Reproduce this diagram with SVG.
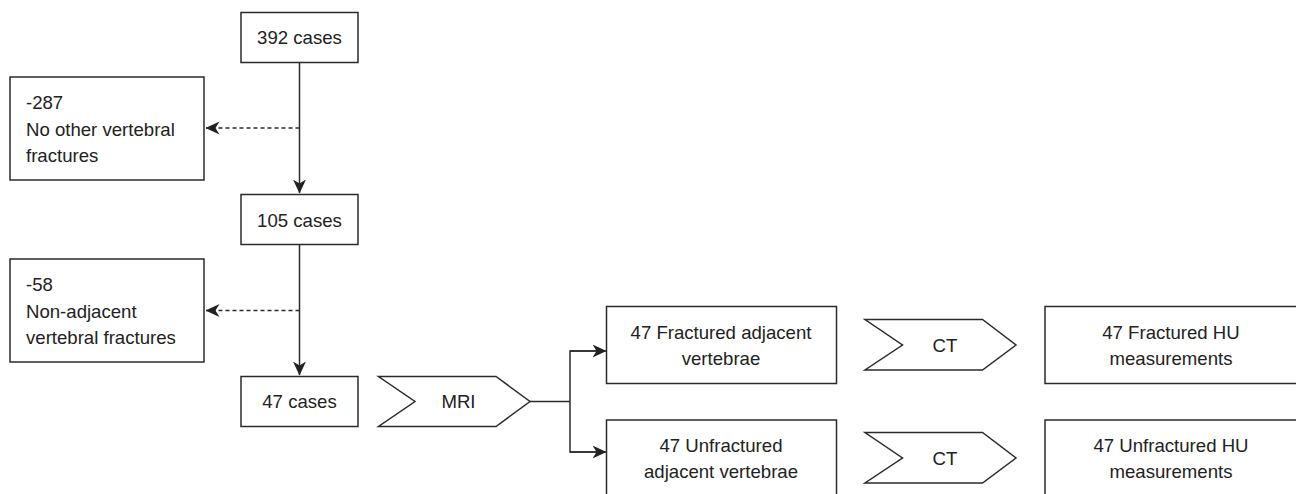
<svg xmlns="http://www.w3.org/2000/svg" width="1296" height="494" viewBox="0 0 1296 494">
<style>
.box{fill:#fff;stroke:#2b2b2b;stroke-width:1.5}
.t{font-family:"Liberation Sans",Arial,sans-serif;font-size:18.6px;fill:#222}
.c{text-anchor:middle}
.ln{fill:none;stroke:#2b2b2b;stroke-width:1.5}
.dash{stroke-dasharray:4 3}
</style>
<defs>
<marker id="ah" viewBox="0 0 14 14" refX="13.5" refY="7" markerWidth="14" markerHeight="14" markerUnits="userSpaceOnUse" orient="auto">
<path d="M0,0.5 L14,7 L0,13.5 L4,7 Z" fill="#222"/>
</marker>
</defs>
<rect width="1296" height="494" fill="#fff"/>
<g id="connectors">
<line class="ln" x1="299.5" y1="63" x2="299.5" y2="193" marker-end="url(#ah)"/>
<line class="ln dash" x1="299.5" y1="128" x2="206" y2="128" marker-end="url(#ah)"/>
<line class="ln" x1="299.5" y1="245" x2="299.5" y2="375" marker-end="url(#ah)"/>
<line class="ln dash" x1="299.5" y1="310.5" x2="206" y2="310.5" marker-end="url(#ah)"/>
<polyline class="ln" points="530,401.5 570,401.5"/>
<polyline class="ln" points="600,351 570,351 570,452 600,452"/>
<line class="ln" x1="570" y1="351" x2="606" y2="351" marker-end="url(#ah)"/>
<line class="ln" x1="570" y1="452" x2="606" y2="452" marker-end="url(#ah)"/>
</g>
<g id="n392">
<rect class="box" x="241" y="12.5" width="117" height="50"/>
<text class="t c" x="299.5" y="44">392 cases</text>
</g>
<g id="n287">
<rect class="box" x="10" y="77" width="194" height="103"/>
<text class="t" x="26" y="109">-287</text>
<text class="t" x="26" y="135.5">No other vertebral</text>
<text class="t" x="26" y="162">fractures</text>
</g>
<g id="n105">
<rect class="box" x="241" y="194.5" width="117" height="50"/>
<text class="t c" x="299.5" y="226.5">105 cases</text>
</g>
<g id="n58">
<rect class="box" x="10" y="259" width="194" height="103"/>
<text class="t" x="26" y="291">-58</text>
<text class="t" x="26" y="317.5">Non-adjacent</text>
<text class="t" x="26" y="344">vertebral fractures</text>
</g>
<g id="n47">
<rect class="box" x="241" y="376.5" width="117" height="50"/>
<text class="t c" x="299.5" y="407.5">47 cases</text>
</g>
<g id="mri">
<polygon class="box" points="378.5,376.5 496,376.5 530,401.5 496,426.5 378.5,426.5 415,401.5"/>
<text class="t c" x="458.5" y="407.5">MRI</text>
</g>
<g id="frac">
<rect class="box" x="606.5" y="306.5" width="230" height="77"/>
<text class="t c" x="721" y="338.5">47 Fractured adjacent</text>
<text class="t c" x="721" y="365">vertebrae</text>
</g>
<g id="unfrac">
<rect class="box" x="606.5" y="420" width="230" height="77"/>
<text class="t c" x="721" y="451.5">47 Unfractured</text>
<text class="t c" x="721" y="477.5">adjacent vertebrae</text>
</g>
<g id="ct1">
<polygon class="box" points="865,319.5 982.5,319.5 1016,345 982.5,370 865,370 902.5,345"/>
<text class="t c" x="945" y="351.5">CT</text>
</g>
<g id="ct2">
<polygon class="box" points="865,432.5 982.5,432.5 1016,458 982.5,483 865,483 902.5,458"/>
<text class="t c" x="945" y="465">CT</text>
</g>
<g id="hu1">
<rect class="box" x="1045" y="306.5" width="260" height="77"/>
<text class="t c" x="1171" y="338.5">47 Fractured HU</text>
<text class="t c" x="1171" y="365">measurements</text>
</g>
<g id="hu2">
<rect class="box" x="1045" y="420" width="260" height="77"/>
<text class="t c" x="1171" y="451.5">47 Unfractured HU</text>
<text class="t c" x="1171" y="477.5">measurements</text>
</g>
</svg>
